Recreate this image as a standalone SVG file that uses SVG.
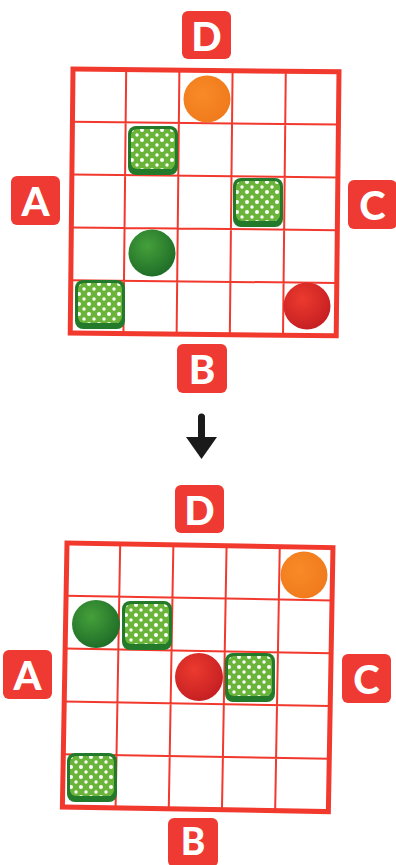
<svg xmlns="http://www.w3.org/2000/svg" width="396" height="865" viewBox="0 0 396 865">
<style>
.lbl{fill:#ee3a32}
.lt{fill:#fff;font-family:Lato,"Open Sans","Liberation Sans",sans-serif;font-weight:900;font-size:40px;text-anchor:middle;dominant-baseline:central}
.gout{fill:#fff;stroke:#f2392e;stroke-width:5}
.gin{stroke:#f2392e;stroke-width:2;fill:none}
.base{fill:#237a2a}
.top{fill:#6ab43a}
.dots{fill:url(#dots)}
</style>
<defs>
<pattern id="dots" x="1" y="1" width="10" height="10" patternUnits="userSpaceOnUse">
<circle cx="3" cy="3" r="2" fill="#fff"/>
<circle cx="8" cy="8" r="1.7" fill="#fff"/>
</pattern>
<radialGradient id="gOr" cx="0.4" cy="0.4" r="0.65"><stop offset="0" stop-color="#f88a26"/><stop offset="1" stop-color="#f07a1c"/></radialGradient>
<radialGradient id="gGr" cx="0.4" cy="0.35" r="0.7"><stop offset="0" stop-color="#45a03a"/><stop offset="1" stop-color="#1d6b27"/></radialGradient>
<radialGradient id="gRd" cx="0.4" cy="0.35" r="0.7"><stop offset="0" stop-color="#ec3a2e"/><stop offset="1" stop-color="#c41e22"/></radialGradient>
<g id="sq">
<rect x="0" y="0" width="50" height="49" rx="8" class="base"/>
<rect x="3" y="3" width="44" height="40" rx="6" class="top"/>
<rect x="3" y="3" width="44" height="40" rx="6" class="dots"/>
</g>
<g id="gridlines">
<rect x="0" y="0" width="266" height="264" class="gout"/>
<path class="gin" d="M53.2 0V264M106.4 0V264M159.6 0V264M212.8 0V264M0 52.8H266M0 105.6H266M0 158.4H266M0 211.2H266"/>
</g>
</defs>

<g id="grid1" transform="translate(73,69) rotate(0.6)"><use href="#gridlines"/></g>
<g id="grid2" transform="translate(67,543) rotate(1)"><use href="#gridlines"/></g>

<g id="D1"><rect class="lbl" x="182" y="11" width="49" height="48" rx="6"/><text class="lt" x="206.5" y="36">D</text></g>
<g id="A1"><rect class="lbl" x="11" y="176" width="49" height="49" rx="6"/><text class="lt" x="35.5" y="201">A</text></g>
<g id="C1"><rect class="lbl" x="348" y="180" width="49" height="49" rx="6"/><text class="lt" x="372.5" y="205">C</text></g>
<g id="B1"><rect class="lbl" x="177" y="344" width="50" height="49" rx="6"/><text class="lt" x="202" y="369">B</text></g>

<g id="orange1"><circle cx="207" cy="99" r="23.5" fill="url(#gOr)"/></g>
<g id="sq1a" transform="translate(128,126)"><use href="#sq"/></g>
<g id="sq1b" transform="translate(233,178)"><use href="#sq"/></g>
<g id="green1"><circle cx="152" cy="253" r="23.5" fill="url(#gGr)"/></g>
<g id="sq1c" transform="translate(75,280)"><use href="#sq"/></g>
<g id="red1"><circle cx="307" cy="306" r="23.5" fill="url(#gRd)"/></g>

<g id="connectors">
<path d="M201.5 417V440" stroke="#1a1a1a" stroke-width="7" stroke-linecap="round" fill="none"/>
<path d="M186 437H217L201.5 459Z" fill="#1a1a1a"/>
</g>

<g id="D2"><rect class="lbl" x="175" y="485" width="49" height="48" rx="6"/><text class="lt" x="199.5" y="510">D</text></g>
<g id="A2"><rect class="lbl" x="3" y="650" width="49" height="49" rx="6"/><text class="lt" x="27.5" y="675">A</text></g>
<g id="C2"><rect class="lbl" x="342" y="654" width="49" height="49" rx="6"/><text class="lt" x="366.5" y="679">C</text></g>
<g id="B2"><rect class="lbl" x="168" y="818" width="50" height="49" rx="6"/><text class="lt" x="193" y="840" style="font-size:37px">B</text></g>

<g id="orange2"><circle cx="304" cy="575" r="23.5" fill="url(#gOr)"/></g>
<g id="green2"><circle cx="96" cy="624" r="24" fill="url(#gGr)"/></g>
<g id="sq2a" transform="translate(122,601)"><use href="#sq"/></g>
<g id="red2"><circle cx="199" cy="677" r="24" fill="url(#gRd)"/></g>
<g id="sq2b" transform="translate(225,653)"><use href="#sq"/></g>
<g id="sq2c" transform="translate(67,753)"><use href="#sq"/></g>
</svg>
